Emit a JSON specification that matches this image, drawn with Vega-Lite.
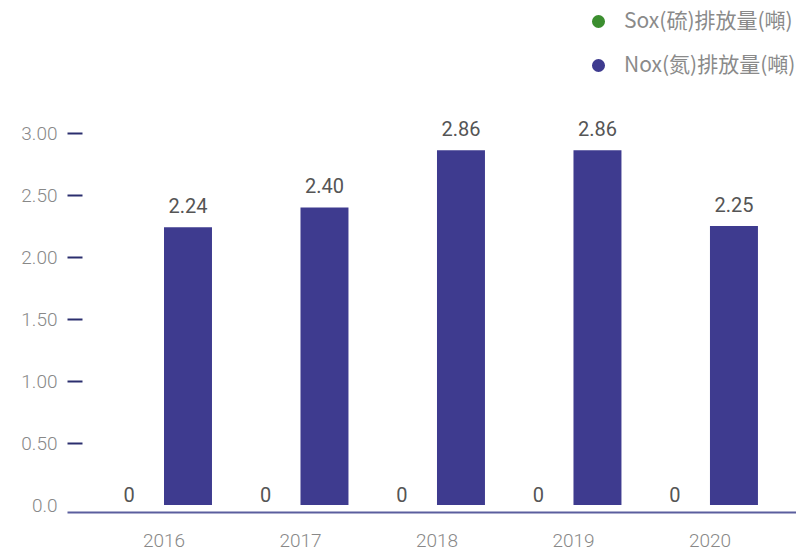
{
  "$schema": "https://vega.github.io/schema/vega-lite/v6.json",
  "autosize": {"type": "none"},
  "padding": {"left": 67, "top": 133, "right": 0, "bottom": 46},
  "width": 729,
  "height": 372,
  "background": "white",
  "data": {
    "values": [
      {"year": "2016", "series": "Sox(硫)排放量(噸)", "value": 0},
      {"year": "2016", "series": "Nox(氮)排放量(噸)", "value": 2.24},
      {"year": "2017", "series": "Sox(硫)排放量(噸)", "value": 0},
      {"year": "2017", "series": "Nox(氮)排放量(噸)", "value": 2.40},
      {"year": "2018", "series": "Sox(硫)排放量(噸)", "value": 0},
      {"year": "2018", "series": "Nox(氮)排放量(噸)", "value": 2.86},
      {"year": "2019", "series": "Sox(硫)排放量(噸)", "value": 0},
      {"year": "2019", "series": "Nox(氮)排放量(噸)", "value": 2.86},
      {"year": "2020", "series": "Sox(硫)排放量(噸)", "value": 0},
      {"year": "2020", "series": "Nox(氮)排放量(噸)", "value": 2.25}
    ]
  },
  "encoding": {
    "x": {
      "field": "year",
      "type": "nominal",
      "scale": {"paddingInner": 0.297, "paddingOuter": 0.319, "align": 0.563},
      "axis": {
        "title": null,
        "orient": "bottom",
        "offset": 7,
        "labelAngle": 0,
        "ticks": false,
        "tickSize": 0,
        "domainColor": "#5b5e9e",
        "domainWidth": 2,
        "labelFont": "Roboto",
        "labelFontSize": 19,
        "labelFontWeight": 300,
        "labelColor": "#888888",
        "labelPadding": 19
      }
    },
    "xOffset": {
      "field": "series",
      "type": "nominal",
      "scale": {"domain": ["Sox(硫)排放量(噸)", "Nox(氮)排放量(噸)"], "paddingInner": 0, "paddingOuter": 0}
    },
    "y": {
      "field": "value",
      "type": "quantitative",
      "scale": {"domain": [0, 3], "nice": false},
      "axis": {
        "title": null,
        "values": [0, 0.5, 1, 1.5, 2, 2.5, 3],
        "labelExpr": "datum.value === 0 ? '0.0' : format(datum.value, '.2f')",
        "offset": -15,
        "tickSize": 15,
        "tickWidth": 2,
        "tickColor": "#2b2e6e",
        "tickOpacity": {"condition": {"test": "datum.value === 0", "value": 0}, "value": 1},
        "domain": false,
        "grid": false,
        "labelFont": "Roboto",
        "labelFontSize": 19,
        "labelFontWeight": 300,
        "labelColor": "#888888",
        "labelPadding": 10
      }
    }
  },
  "layer": [
    {
      "mark": {"type": "bar"},
      "encoding": {
        "color": {
          "field": "series",
          "type": "nominal",
          "scale": {"domain": ["Sox(硫)排放量(噸)", "Nox(氮)排放量(噸)"], "range": ["#3b8e2f", "#3e3b8f"]},
          "legend": {
            "title": null,
            "orient": "none",
            "legendX": 521,
            "legendY": -122,
            "padding": 0,
            "symbolType": "circle",
            "symbolSize": 170,
            "symbolStrokeWidth": 0,
            "labelFont": "Noto Sans CJK TC",
            "labelFontSize": 21,
            "labelColor": "#8a8a8a",
            "labelOffset": 15,
            "rowPadding": 22,
            "labelLimit": 1000
          }
        }
      }
    },
    {
      "transform": [{"filter": "datum.series === 'Sox(硫)排放量(噸)'"}],
      "mark": {"type": "text", "baseline": "alphabetic", "dy": -3, "dx": -11, "font": "Roboto", "fontSize": 20, "color": "#555555"},
      "encoding": {"text": {"field": "value", "type": "quantitative", "format": "d"}}
    },
    {
      "transform": [{"filter": "datum.series === 'Nox(氮)排放量(噸)'"}],
      "mark": {"type": "text", "baseline": "alphabetic", "dy": -14, "font": "Roboto", "fontSize": 20, "color": "#555555"},
      "encoding": {"text": {"field": "value", "type": "quantitative", "format": ".2f"}}
    }
  ],
  "config": {"view": {"stroke": null}}
}
